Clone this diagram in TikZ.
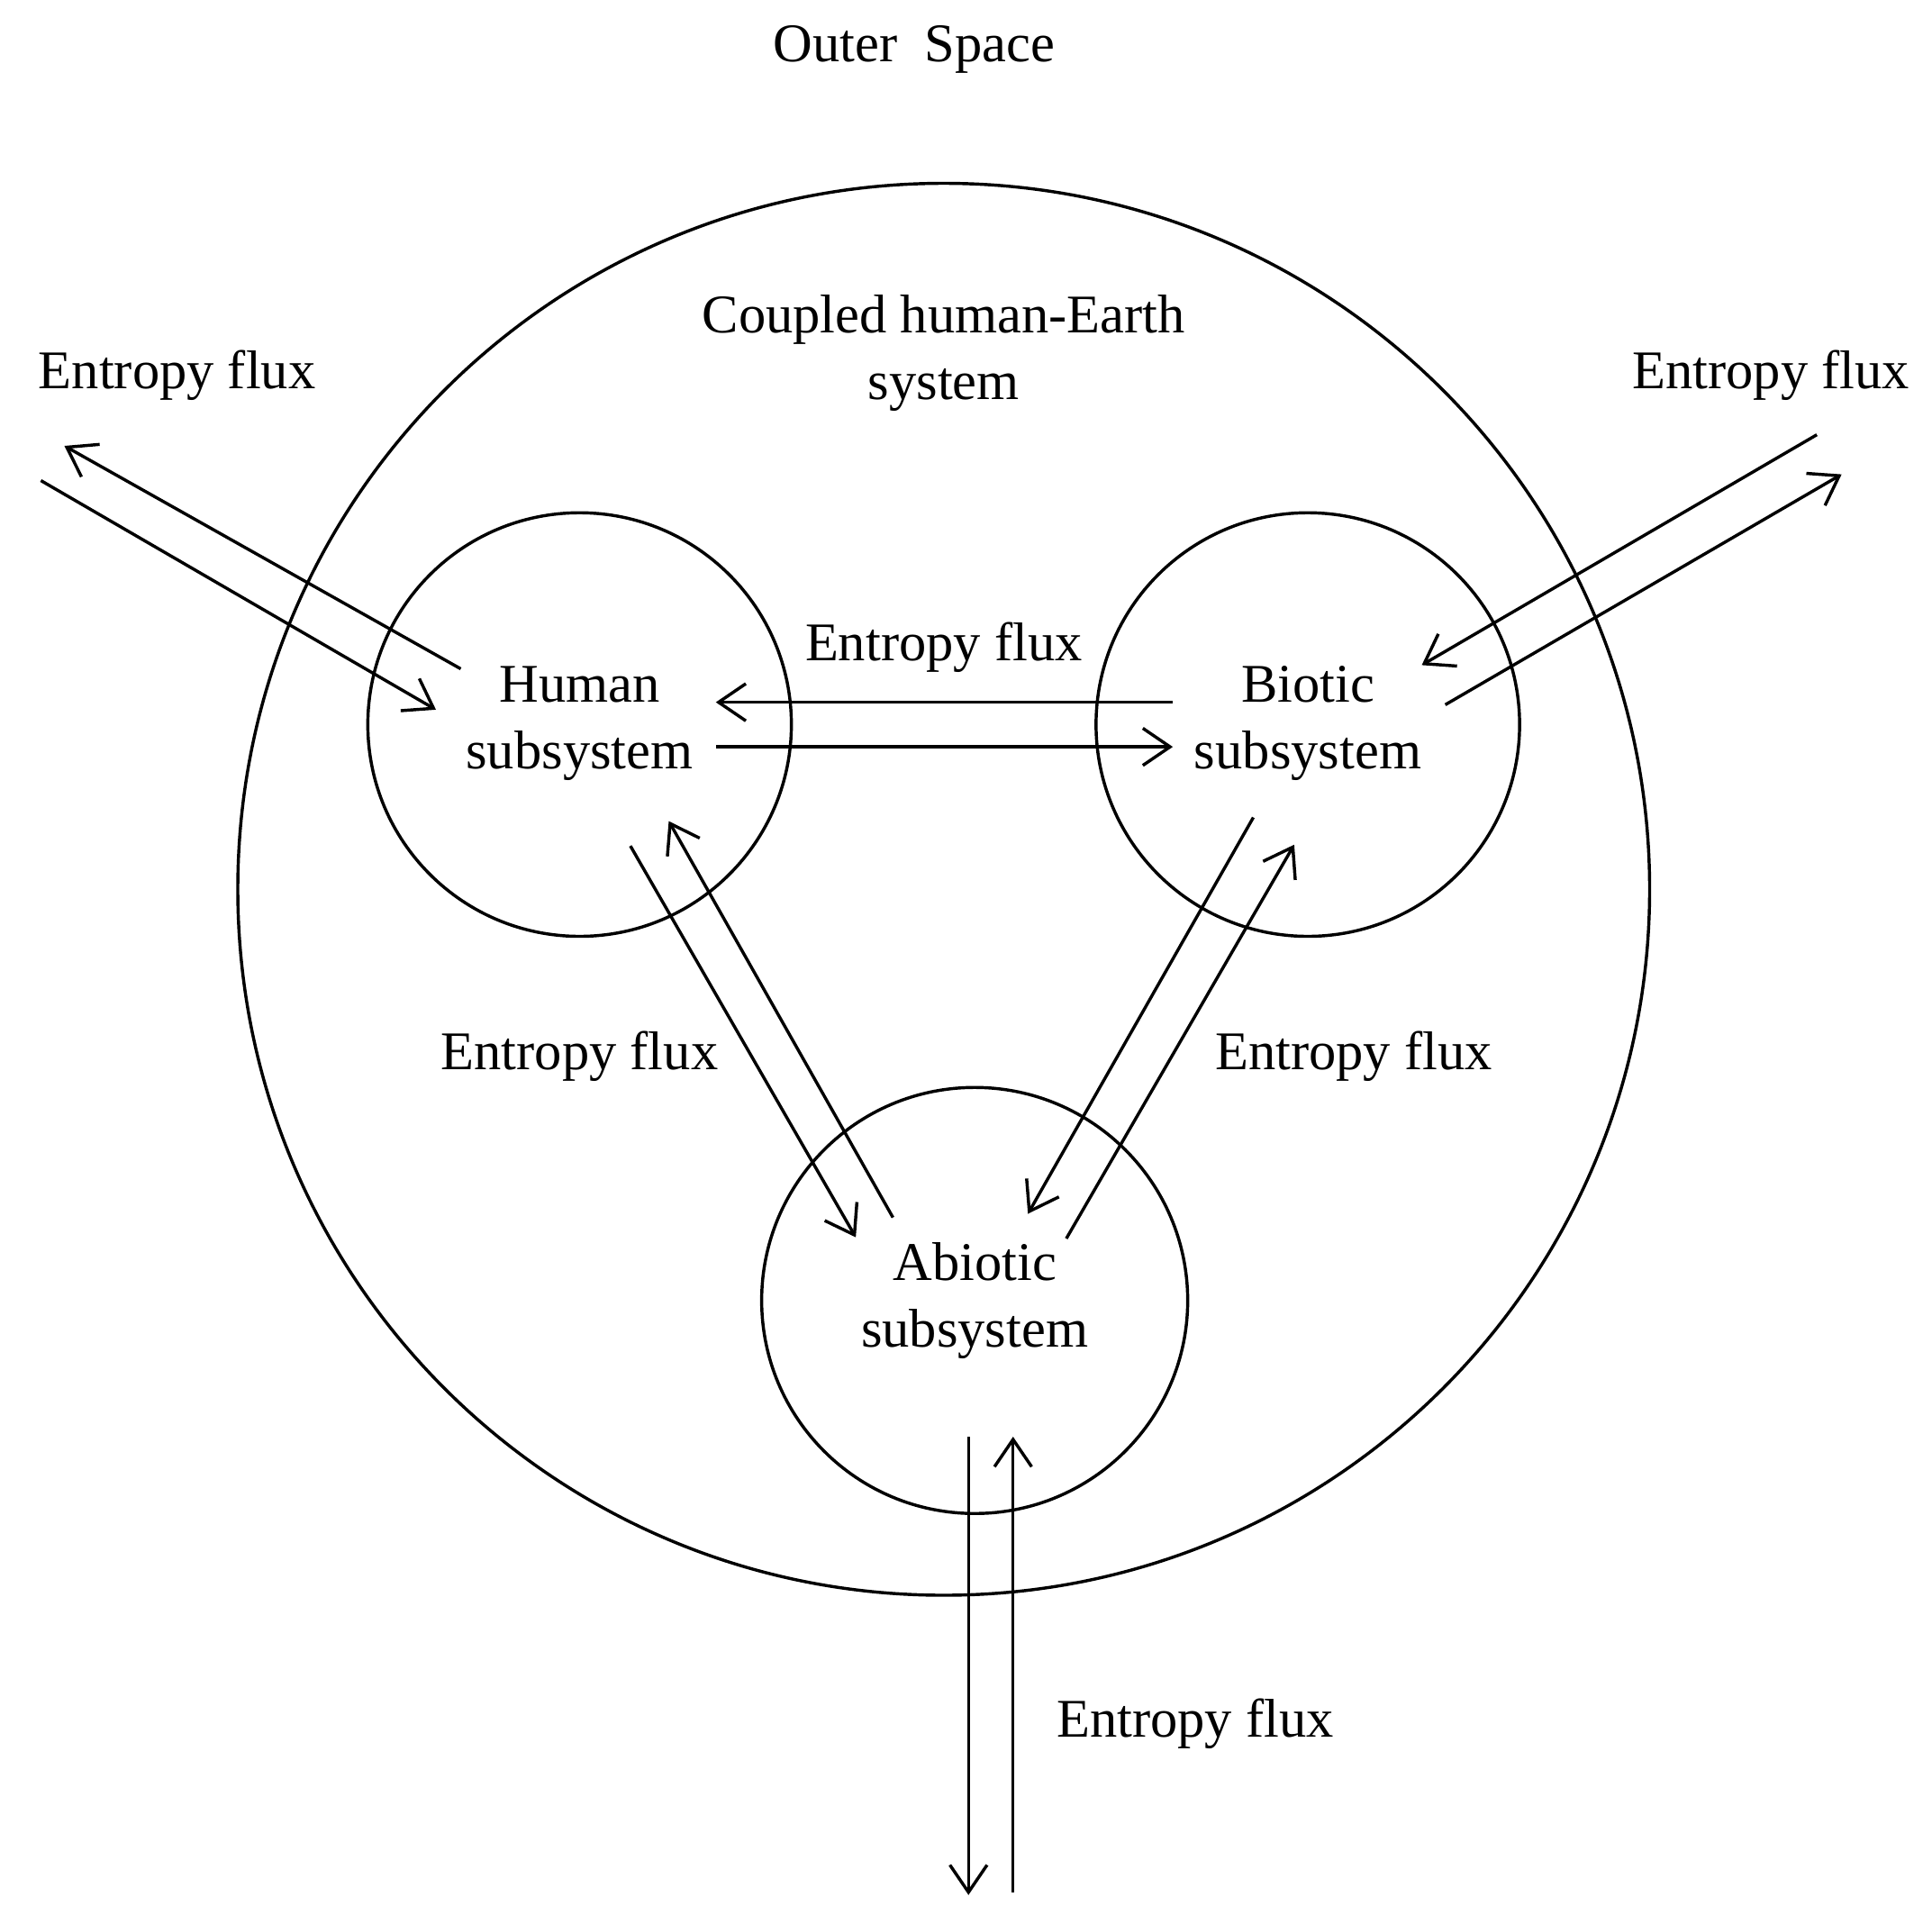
\documentclass[tikz,border=0pt]{standalone}
\usepackage{fontspec}
\setmainfont{Liberation Serif}
\usetikzlibrary{arrows.meta}
\begin{document}
\begin{tikzpicture}[x=1pt,y=-1pt,
  txt/.style={font=\fontsize{44}{54}\selectfont, align=center, inner sep=0},
  ring/.style={draw, circle, line width=2.5pt, inner sep=0},
  flow/.style={line width=2.5pt, -{Straight Barb[length=22pt,width=30pt,line width=2.5pt]}}]
\useasboundingbox (0,0) rectangle (1560,1553);
\node[ring, minimum size=1140pt] (earth) at (762,718) {};
\node[ring, minimum size=342pt] (human) at (468,585) {};
\node[ring, minimum size=342pt] (biotic) at (1056,585) {};
\node[ring, minimum size=344pt] (abiotic) at (787,1050) {};
\node[txt] (outer) at (738,40) {Outer\ \ Space};
\node[txt] (couple) at (762,285) {Coupled human-Earth\\system};
\node[txt] (ht) at (468,584) {Human\\subsystem};
\node[txt] (bt) at (1056,584) {Biotic\\subsystem};
\node[txt] (at) at (787,1050) {Abiotic\\subsystem};
\node[txt] (f1) at (143,303) {Entropy flux};
\node[txt] (f2) at (1430,303) {Entropy flux};
\node[txt] (f3) at (762,523) {Entropy flux};
\node[txt] (f4) at (468,853) {Entropy flux};
\node[txt] (f5) at (1093,853) {Entropy flux};
\node[txt] (f6) at (965,1392) {Entropy flux};
% arrow endpoints
\coordinate (a1) at (372,540); \coordinate (a2) at (52,360);
\coordinate (b1) at (33,388); \coordinate (b2) at (352,573);
\coordinate (c1) at (1467,351); \coordinate (c2) at (1148,537);
\coordinate (d1) at (1167,569); \coordinate (d2) at (1487,383);
\coordinate (e1) at (947,567); \coordinate (e2) at (578,567);
\coordinate (g1) at (578,603); \coordinate (g2) at (947,603);
\coordinate (h1) at (509,683); \coordinate (h2) at (691,999);
\coordinate (i1) at (721,983); \coordinate (i2) at (540,663);
\coordinate (j1) at (1012,660); \coordinate (j2) at (830,980);
\coordinate (k1) at (861,1000); \coordinate (k2) at (1045,682);
\coordinate (l1) at (782,1160); \coordinate (l2) at (782,1530);
\coordinate (m1) at (818,1528); \coordinate (m2) at (818,1160);
\foreach \s/\t in {a1/a2,b1/b2,c1/c2,d1/d2,e1/e2,g1/g2,h1/h2,i1/i2,j1/j2,k1/k2,l1/l2,m1/m2}
  \draw[flow] (\s) -- (\t);
\end{tikzpicture}
\end{document}
